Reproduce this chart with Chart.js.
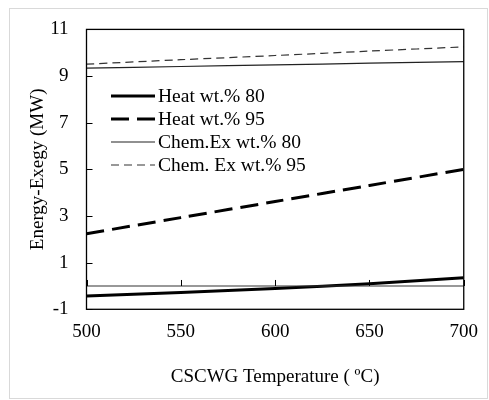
<!DOCTYPE html>
<html>
<head>
<meta charset="utf-8">
<script src="https://cdn.jsdelivr.net/npm/chart.js@4"></script>
<style>
  body { margin: 0; background: #fff; }
  #wrap { position: relative; width: 489px; height: 400px; }
</style>
</head>
<body>
<div id="wrap"><canvas id="energyChart" width="489" height="400"></canvas></div>
<script>
// CSCWG temperature (°C)
const temps = [500, 550, 600, 650, 700];
const heat80 = [-0.43, -0.28, -0.11, 0.1, 0.35];
const heat95 = [2.24, 2.93, 3.62, 4.31, 5.0];
const chem80 = [9.34, 9.41, 9.48, 9.55, 9.62];
const chem95 = [9.51, 9.7, 9.88, 10.07, 10.25];
const xTicks = [500, 550, 600, 650, 700];
const yTicks = [-1, 1, 3, 5, 7, 9, 11];

const serif = "'Liberation Serif', 'Times New Roman', serif";

const toPoints = (ys) => temps.map((t, i) => ({ x: t, y: ys[i] }));

// frame, zero line, inside ticks and an in-plot legend
const decorPlugin = {
  id: "decor",
  afterDraw(chart) {
    const { ctx, chartArea: a, scales } = chart;
    ctx.save();
    // outer light frame
    ctx.strokeStyle = "#d9d9d9";
    ctx.lineWidth = 1;
    ctx.strokeRect(9.5, 8.5, 478, 390);

    // zero line
    const y0 = scales.y.getPixelForValue(0);
    ctx.strokeStyle = "#333";
    ctx.lineWidth = 1.2;
    ctx.beginPath();
    ctx.moveTo(a.left, y0);
    ctx.lineTo(a.right, y0);
    ctx.stroke();

    // x ticks pointing up from zero line
    ctx.strokeStyle = "#000";
    ctx.lineWidth = 1;
    xTicks.forEach((v) => {
      const px = Math.round(scales.x.getPixelForValue(v)) + 0.5;
      ctx.beginPath();
      ctx.moveTo(px, y0);
      ctx.lineTo(px, y0 - 6);
      ctx.stroke();
    });
    // y ticks pointing inside
    yTicks.forEach((v) => {
      const py = Math.round(scales.y.getPixelForValue(v)) + 0.5;
      ctx.beginPath();
      ctx.moveTo(a.left, py);
      ctx.lineTo(a.left + 6, py);
      ctx.stroke();
    });

    // plot frame
    ctx.strokeStyle = "#000";
    ctx.lineWidth = 1.3;
    ctx.strokeRect(a.left, a.top, a.right - a.left, a.bottom - a.top);

    // legend
    const rows = [96, 119, 142, 165];
    ctx.font = "19.5px " + serif;
    ctx.fillStyle = "#000";
    ctx.textBaseline = "middle";
    chart.data.datasets.forEach((ds, i) => {
      const y = rows[i];
      ctx.strokeStyle = ds.borderColor;
      ctx.lineWidth = ds.borderWidth;
      ctx.setLineDash(ds.borderDash || []);
      ctx.beginPath();
      ctx.moveTo(111, y);
      ctx.lineTo(155, y);
      ctx.stroke();
      ctx.setLineDash([]);
      ctx.fillText(ds.label, 158, y + 1);
    });
    ctx.restore();
  },
};

new Chart(document.getElementById("energyChart").getContext("2d"), {
  type: "line",
  data: {
    datasets: [
      {
        label: "Heat wt.% 80",
        data: toPoints(heat80),
        borderColor: "#000",
        borderWidth: 3,
        tension: 0.3,
        pointRadius: 0,
      },
      {
        label: "Heat wt.% 95",
        data: toPoints(heat95),
        borderColor: "#000",
        borderWidth: 3,
        borderDash: [18, 8],
        tension: 0.3,
        pointRadius: 0,
      },
      {
        label: "Chem.Ex wt.% 80",
        data: toPoints(chem80),
        borderColor: "#222",
        borderWidth: 1.2,
        tension: 0.3,
        pointRadius: 0,
      },
      {
        label: "Chem. Ex wt.% 95",
        data: toPoints(chem95),
        borderColor: "#333",
        borderWidth: 1.2,
        borderDash: [8, 5],
        tension: 0.3,
        pointRadius: 0,
      },
    ],
  },
  options: {
    responsive: false,
    animation: false,
    layout: { padding: { left: 10, top: 28, right: 17, bottom: 0 } },
    plugins: { legend: { display: false }, tooltip: { enabled: false } },
    scales: {
      x: {
        type: "linear",
        min: 500,
        max: 700,
        afterBuildTicks: (s) => { s.ticks = xTicks.map((v) => ({ value: v })); },
        afterFit: (s) => { s.height = 90.7; },
        grid: { display: false, drawTicks: false },
        border: { display: false },
        ticks: { padding: 11, color: "#000", font: { family: serif, size: 19 } },
        title: {
          display: true,
          text: "CSCWG Temperature ( ºC)",
          color: "#000",
          font: { family: serif, size: 19 },
          padding: { bottom: 12 },
        },
      },
      y: {
        min: -1,
        max: 11,
        afterBuildTicks: (s) => { s.ticks = yTicks.map((v) => ({ value: v })); },
        afterFit: (s) => { s.width = 76.5; },
        grid: { display: false, drawTicks: false },
        border: { display: false },
        ticks: { padding: 18, color: "#000", font: { family: serif, size: 19 } },
        title: {
          display: true,
          text: "Energy-Exegy (MW)",
          color: "#000",
          font: { family: serif, size: 19 },
          padding: { top: 17 },
        },
      },
    },
  },
  plugins: [decorPlugin],
});
</script>
</body>
</html>
